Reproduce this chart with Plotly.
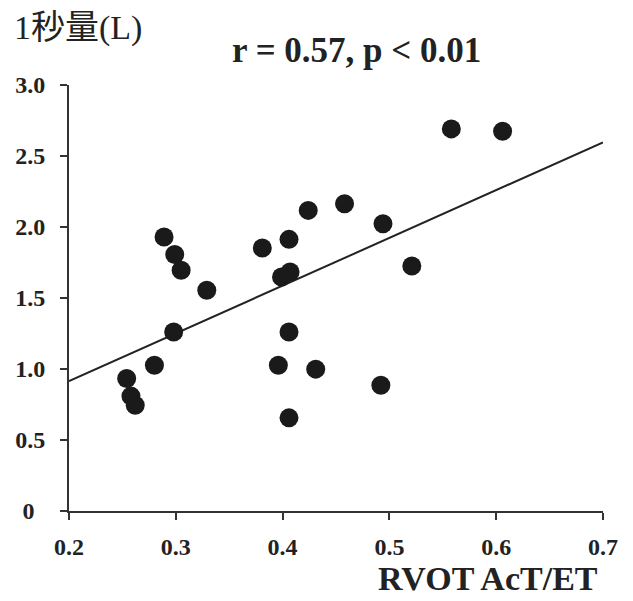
import plotly.graph_objects as go

x_vals = [0.254, 0.258, 0.262, 0.280, 0.289, 0.299, 0.305, 0.298, 0.329, 0.381,
          0.406, 0.424, 0.458, 0.494, 0.399, 0.407, 0.406, 0.396, 0.431, 0.406,
          0.492, 0.521, 0.558, 0.606]
y_vals = [0.933, 0.809, 0.745, 1.027, 1.929, 1.807, 1.695, 1.261, 1.554, 1.852,
          1.913, 2.117, 2.164, 2.023, 1.648, 1.683, 1.261, 1.027, 0.999, 0.656,
          0.886, 1.725, 2.691, 2.674]
fit_x = [0.2, 0.7]
fit_y = [0.914, 2.596]

x_ticks = [0.2, 0.3, 0.4, 0.5, 0.6, 0.7]
x_ticktext = ["0.2", "0.3", "0.4", "0.5", "0.6", "0.7"]
y_ticks = [0, 0.5, 1.0, 1.5, 2.0, 2.5, 3.0]
y_ticktext = ["0\u00a0\u2009", "0.5", "1.0", "1.5", "2.0", "2.5", "3.0"]

serif = "Liberation Serif, Times New Roman, serif"

L, R, T, B = 69, 30, 85, 90
W, H = 633, 601
PW, PH = W - L - R, H - T - B


def px(xp):
    return (xp - L) / PW


def py(yp):
    return (H - B - yp) / PH


fig = go.Figure()
fig.add_trace(go.Scatter(x=fit_x, y=fit_y, mode="lines",
                         line=dict(color="#222222", width=2), showlegend=False))
fig.add_trace(go.Scatter(x=x_vals, y=y_vals, mode="markers",
                         marker=dict(size=19, color="#1a1a1a", line=dict(width=0)),
                         showlegend=False, cliponaxis=False))

axis_common = dict(showgrid=False, zeroline=False, showline=True, linecolor="#333333",
                   linewidth=2, ticks="outside", ticklen=7, tickwidth=2, tickcolor="#333333",
                   tickfont=dict(family=serif, size=24, color="#222222", weight="bold"))

fig.update_layout(
    width=W, height=H,
    margin=dict(l=L, r=R, t=T, b=B),
    plot_bgcolor="white", paper_bgcolor="white",
    font=dict(family=serif, color="#222222"),
    xaxis=dict(range=[0.2, 0.7], tickvals=x_ticks, ticktext=x_ticktext,
               ticklabelstandoff=6, **axis_common),
    yaxis=dict(range=[0, 3.0], tickvals=y_ticks, ticktext=y_ticktext,
               ticklabelstandoff=10, **axis_common),
)
fig.add_annotation(text="<b>r = 0.57, p < 0.01</b>", xref="paper", yref="paper",
                   x=px(356), y=py(50), xanchor="center", yanchor="middle",
                   showarrow=False, font=dict(family=serif, size=35, color="#222222"))
fig.add_annotation(text="1秒量(L)", xref="paper", yref="paper",
                   x=px(12), y=py(28), xanchor="left", yanchor="middle",
                   showarrow=False,
                   font=dict(family="Liberation Serif, Noto Sans CJK JP, serif", size=34, color="#222222"))
fig.add_annotation(text="<b>RVOT AcT/ET</b>", xref="paper", yref="paper",
                   x=px(600), y=py(578), xanchor="right", yanchor="middle",
                   showarrow=False, font=dict(family=serif, size=34, color="#222222"))

fig.write_html("out.html")
